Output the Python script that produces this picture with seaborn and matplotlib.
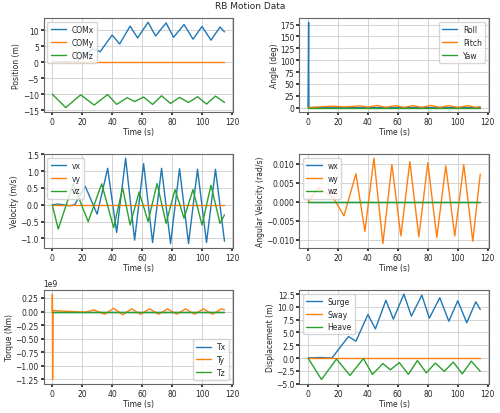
import matplotlib
matplotlib.use("Agg")
import matplotlib.pyplot as plt
from matplotlib.ticker import MultipleLocator
import seaborn as sns

sns.set_theme(style="ticks")
plt.rcParams['font.family'] = ['DejaVu Sans']

# Surge / COMx extrema
t_x = [0, 8, 16, 27, 32, 40, 45, 52, 57, 64, 69, 76, 81, 88, 94, 100, 106, 112, 115]
surge = [0, 0.1, 0, 4.2, 3.3, 8.5, 5.7, 11.3, 7.6, 12.5, 8.2, 12.3, 7.8, 11.8, 7.2, 11.2, 6.9, 11.0, 9.5]
t_h = [0, 9, 19, 28, 37, 43, 50, 55, 61, 67, 73, 79, 85, 91, 97, 103, 109, 115]
heave = [0, -4.2, -0.2, -3.4, -0.1, -3.2, -1.1, -2.3, -0.9, -3.2, -0.5, -2.9, -1.0, -2.6, -0.8, -3.1, -0.6, -2.6]
t_line = [0, 115]
zero_line = [0, 0]
comz = [v - 10 for v in heave]

t_vx = [0, 4, 12, 15, 22, 30, 37, 43, 49, 55, 61, 67, 73, 79, 85, 91, 97, 103, 109, 115]
vx = [0, 0.02, -0.03, 0, 0.55, -0.28, 1.08, -0.82, 1.38, -1.05, 1.22, -1.12, 1.08, -1.15, 1.07, -1.15, 1.05, -1.12, 1.05, -1.08]
t_vz = [0, 4, 14, 24, 33, 41, 47, 52, 58, 64, 70, 76, 82, 88, 94, 100, 106, 112, 115]
vz = [0, -0.72, 0.62, -0.5, 0.62, -0.68, 0.5, -0.6, 0.38, -0.5, 0.63, -0.55, 0.45, -0.4, 0.45, -0.6, 0.58, -0.55, -0.3]

t_wy = [0, 7, 17, 24, 32, 38, 44, 50, 56, 62, 68, 74, 80, 86, 92, 98, 104, 110, 115]
wy = [0, 0.0037, 0.001, -0.0037, 0.0074, -0.0078, 0.0115, -0.011, 0.0098, -0.009, 0.0106, -0.0092, 0.0103, -0.0094, 0.0095, -0.009, 0.0098, -0.0104, 0.0073]

t_roll = [0, 0.4, 0.6, 115]
roll = [0, 180, 0, 0]
t_pitch = [0, 10, 17, 24, 35, 40, 46, 52, 58, 64, 70, 76, 82, 88, 94, 100, 107, 112, 115]
pitch = [0, 2, 3, 1.5, 3.5, 1, 4.5, 0.5, 4, 0.5, 4, 0.5, 4.5, 0.5, 4, 0.5, 4, 0.5, 2]

t_ty = [0, 0.1, 0.25, 0.5, 5, 22, 28, 35, 41, 47, 53, 59, 65, 71, 77, 83, 89, 95, 101, 107, 113, 115]
ty = [0, 0.32e9, -1.25e9, 0.02e9, 0.01e9, -0.01e9, 0.03e9, -0.05e9, 0.06e9, -0.06e9, 0.05e9, -0.05e9, 0.05e9, -0.05e9, 0.05e9, -0.05e9, 0.05e9, -0.05e9, 0.05e9, -0.05e9, 0.05e9, 0.03e9]

fig, axes = plt.subplots(3, 2, figsize=(5, 4.14), dpi=100)
fs = 5.5
C = sns.color_palette("tab10")

def style(ax, ylabel, loc, step):
    ax.set_xlabel("Time (s)", fontsize=fs, labelpad=1)
    ax.set_ylabel(ylabel, fontsize=fs, labelpad=1)
    ax.tick_params(labelsize=fs, length=2, pad=1.5)
    ax.grid(True, color="#cccccc", lw=0.6)
    ax.set_xticks([0, 20, 40, 60, 80, 100, 120])
    ax.yaxis.set_major_locator(MultipleLocator(step))
    ax.legend(fontsize=fs, loc=loc)
    ax.yaxis.get_offset_text().set_fontsize(fs)
    for s in ax.spines.values():
        s.set_color("#666666")
        s.set_linewidth(0.8)

ax = axes[0, 0]
sns.lineplot(x=t_x, y=surge, ax=ax, color=C[0], label="COMx", lw=1)
sns.lineplot(x=t_line, y=zero_line, ax=ax, color=C[1], label="COMy", lw=1)
sns.lineplot(x=t_h, y=comz, ax=ax, color=C[2], label="COMz", lw=1)
style(ax, "Position (m)", "upper left", 5)

ax = axes[0, 1]
sns.lineplot(x=t_roll, y=roll, ax=ax, color=C[0], label="Roll", lw=1)
sns.lineplot(x=t_pitch, y=pitch, ax=ax, color=C[1], label="Pitch", lw=1)
sns.lineplot(x=t_line, y=zero_line, ax=ax, color=C[2], label="Yaw", lw=1)
style(ax, "Angle (deg)", "upper right", 25)

ax = axes[1, 0]
sns.lineplot(x=t_vx, y=vx, ax=ax, color=C[0], label="vx", lw=1)
sns.lineplot(x=t_line, y=zero_line, ax=ax, color=C[1], label="vy", lw=1)
sns.lineplot(x=t_vz, y=vz, ax=ax, color=C[2], label="vz", lw=1)
style(ax, "Velocity (m/s)", "upper left", 0.5)

ax = axes[1, 1]
sns.lineplot(x=t_line, y=zero_line, ax=ax, color=C[0], label="wx", lw=1)
sns.lineplot(x=t_wy, y=wy, ax=ax, color=C[1], label="wy", lw=1)
sns.lineplot(x=t_line, y=zero_line, ax=ax, color=C[2], label="wz", lw=1)
style(ax, "Angular Velocity (rad/s)", "upper left", 0.005)

ax = axes[2, 0]
sns.lineplot(x=t_line, y=zero_line, ax=ax, color=C[0], label="Tx", lw=1)
sns.lineplot(x=t_ty, y=ty, ax=ax, color=C[1], label="Ty", lw=1)
sns.lineplot(x=t_line, y=zero_line, ax=ax, color=C[2], label="Tz", lw=1)
style(ax, "Torque (Nm)", "lower right", 0.25e9)

ax = axes[2, 1]
sns.lineplot(x=t_x, y=surge, ax=ax, color=C[0], label="Surge", lw=1)
sns.lineplot(x=t_line, y=zero_line, ax=ax, color=C[1], label="Sway", lw=1)
sns.lineplot(x=t_h, y=heave, ax=ax, color=C[2], label="Heave", lw=1)
style(ax, "Displacement (m)", "upper left", 2.5)

fig.suptitle("RB Motion Data", fontsize=6.5, y=0.995)
fig.tight_layout(pad=0.3, h_pad=0.4, w_pad=1.0)
fig.savefig("out.png", dpi=100)
